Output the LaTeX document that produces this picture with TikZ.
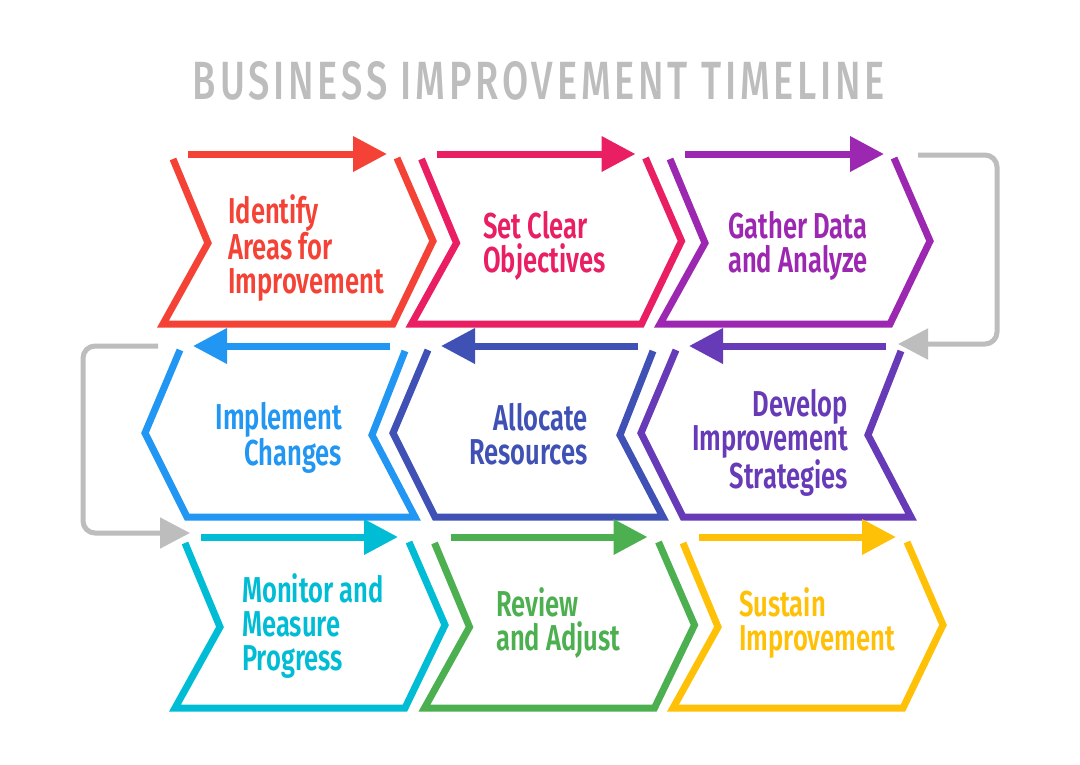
\documentclass[tikz,border=0pt]{standalone}
\usepackage{fontspec}
\usepackage{graphicx}
\usetikzlibrary{arrows.meta}
\newfontfamily\stepfont{Fira Sans SemiBold}[FakeStretch=0.71]
\newfontfamily\titlefont{Fira Sans Medium}[LetterSpace=10]
\definecolor{stepred}{HTML}{F44336}
\definecolor{steppink}{HTML}{E91E63}
\definecolor{steppurple}{HTML}{9C27B0}
\definecolor{stepblue}{HTML}{2196F3}
\definecolor{stepindigo}{HTML}{3F51B5}
\definecolor{stepviolet}{HTML}{673AB7}
\definecolor{stepcyan}{HTML}{00BCD4}
\definecolor{stepgreen}{HTML}{4CAF50}
\definecolor{stepamber}{HTML}{FFC107}
\definecolor{loopgrey}{HTML}{BDBDBD}

\begin{document}
\begin{tikzpicture}[x=1pt, y=-1pt,
        chev/.style={line width=7pt},
        steparrow/.style={line width=7pt, -{Triangle[length=34pt, width=34pt]}},
        backline/.style={line width=5pt, draw=loopgrey, rounded corners=12pt, -{Triangle[length=30pt, width=30pt]}},
        steptext/.style={inner sep=0pt, font=\stepfont\fontsize{36}{34}\selectfont}]
    \useasboundingbox[fill=white] (0,0) rectangle (1080,764);

    % Title
    \node (title) [inner sep=0pt, text=loopgrey] at (539,81) {\resizebox{692pt}{38pt}{\titlefont BUSINESS IMPROVEMENT TIMELINE}};

    % Chevrons, first row (pointing right)
    \draw[chev, stepred] (173,159) -- ++(35,84) -- ++(-45,81) -- ++(230,0) -- ++(40,-83) -- ++(-36,-83);
    \draw[chev, steppink] (421.5,159) -- ++(35,84) -- ++(-45,81) -- ++(230,0) -- ++(40,-83) -- ++(-36,-83);
    \draw[chev, steppurple] (670,159) -- ++(35,84) -- ++(-45,81) -- ++(230,0) -- ++(40,-83) -- ++(-36,-83);

    % Chevrons, second row (pointing left)
    \draw[chev, stepblue] (180,350) -- ++(-35,83) -- ++(42,84) -- ++(228,0) -- ++(-43,-82) -- ++(33,-84);
    \draw[chev, stepindigo] (428,350) -- ++(-35,83) -- ++(42,84) -- ++(228,0) -- ++(-43,-82) -- ++(33,-84);
    \draw[chev, stepviolet] (676,350) -- ++(-35,83) -- ++(42,84) -- ++(228,0) -- ++(-43,-82) -- ++(33,-84);

    % Chevrons, third row (pointing right)
    \draw[chev, stepcyan] (185,543) -- ++(35,84) -- ++(-45,81) -- ++(230,0) -- ++(40,-83) -- ++(-36,-83);
    \draw[chev, stepgreen] (434.5,543) -- ++(35,84) -- ++(-45,81) -- ++(230,0) -- ++(40,-83) -- ++(-36,-83);
    \draw[chev, stepamber] (683,543) -- ++(35,84) -- ++(-45,81) -- ++(230,0) -- ++(40,-83) -- ++(-36,-83);

    % Arrows over the chevrons
    \draw[steparrow, stepred] (188,154) -- (387,154);
    \draw[steparrow, steppink] (436.5,154) -- (635.5,154);
    \draw[steparrow, steppurple] (685,154) -- (884,154);
    \draw[steparrow, stepviolet] (886,346) -- (689,346);
    \draw[steparrow, stepindigo] (638,346) -- (441,346);
    \draw[steparrow, stepblue] (390,346) -- (193,346);
    \draw[steparrow, stepcyan] (201,537) -- (398,537);
    \draw[steparrow, stepgreen] (450.5,537) -- (647.5,537);
    \draw[steparrow, stepamber] (699,537) -- (896,537);

    % Row changes
    \draw[backline] (918,155) -- (997,155) -- (997,344) -- (898,344);
    \draw[backline] (158,346) -- (83,346) -- (83,533) -- (190,533);

    % Step texts
    \node (identify) [steptext, text=stepred, anchor=north west, align=left] at (228,194) {Identify\\Areas for\\Improvement};
    \node (objectives) [steptext, text=steppink, anchor=north west, align=left] at (483,211) {Set Clear\\Objectives};
    \node (gather) [steptext, text=steppurple, anchor=north west, align=left] at (728,211) {Gather Data\\and Analyze};
    \node (develop) [steptext, text=stepviolet, anchor=north east, align=right, font=\stepfont\fontsize{36}{31}\selectfont] at (848,389) {Develop\\Improvement\\Strategies};
    \node (allocate) [steptext, text=stepindigo, anchor=north east, align=right] at (588,403) {Allocate\\Resources};
    \node (implement) [steptext, text=stepblue, anchor=north east, align=right] at (342,402) {Implement\\Changes};
    \node (monitor) [steptext, text=stepcyan, anchor=north west, align=left] at (242,573) {Monitor and\\Measure\\Progress};
    \node (review) [steptext, text=stepgreen, anchor=north west, align=left] at (496,587) {Review\\and Adjust};
    \node (sustain) [steptext, text=stepamber, anchor=north west, align=left] at (739,587) {Sustain\\Improvement};
\end{tikzpicture}
\end{document}
